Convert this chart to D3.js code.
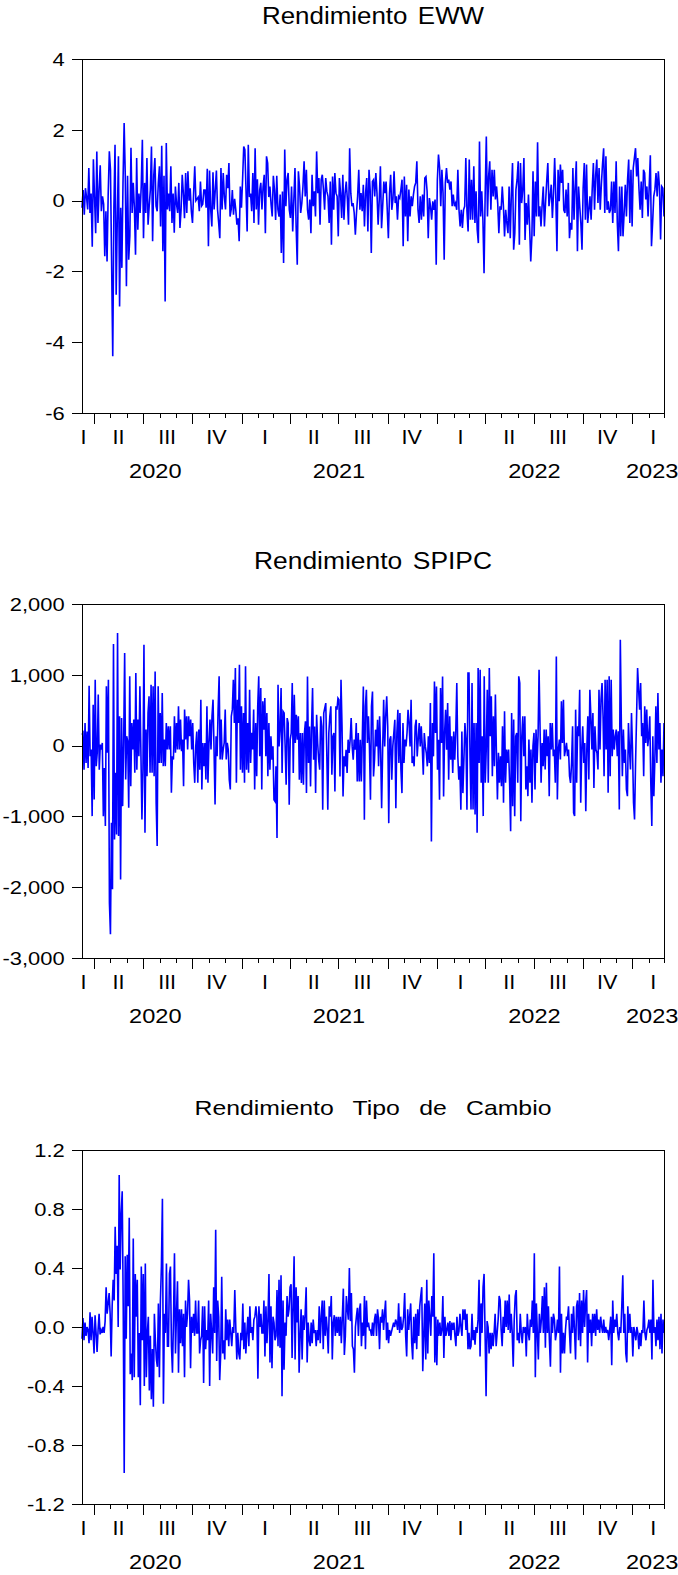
<!DOCTYPE html>
<html>
<head>
<meta charset="utf-8">
<script src="https://cdn.jsdelivr.net/npm/d3@7"></script>
<style>
  body { margin: 0; background: #fff; }
  svg { display: block; }
  text { font-family: "Liberation Sans", Arial, sans-serif; fill: #000; }
</style>
</head>
<body>
<svg id="chart" width="678" height="1575"></svg>
<script>
// ---------------- DATA ----------------
const startDate = "2020-03-09";
const endDate = "2023-03-01";

const titles = ["Rendimiento EWW", "Rendimiento SPIPC", "Rendimiento Tipo de Cambio"];

const ewwTicks = [-6, -4, -2, 0, 2, 4];
const spipcTicks = [-3000, -2000, -1000, 0, 1000, 2000];
const fxTicks = [-1.2, -0.8, -0.4, 0, 0.4, 0.8, 1.2];

const quarterLabels = [
  {date: "2020-03-12", label: "I"}, {date: "2020-05-16", label: "II"}, {date: "2020-08-15", label: "III"}, {date: "2020-11-15", label: "IV"},
  {date: "2021-02-14", label: "I"}, {date: "2021-05-16", label: "II"}, {date: "2021-08-15", label: "III"}, {date: "2021-11-15", label: "IV"},
  {date: "2022-02-14", label: "I"}, {date: "2022-05-16", label: "II"}, {date: "2022-08-15", label: "III"}, {date: "2022-11-15", label: "IV"},
  {date: "2023-02-09", label: "I"}
];
const yearLabels = [
  {date: "2020-07-24", label: "2020"}, {date: "2021-07-02", label: "2021"},
  {date: "2022-07-02", label: "2022"}, {date: "2023-02-07", label: "2023"}
];

const ewwReturns = [
-0.2,0.3,-0.4,0.35,0.1,-0.25,0.92,-0.35,0.2,-1.3,
1.17,0.1,-0.92,1.39,-0.63,0.3,1.0,-0.3,0.12,-0.1,
-1.57,-0.3,-1.72,0.2,1.39,0.87,-1.76,-4.4,-0.2,1.58,
-2.66,-0.5,1.25,-2.99,-0.2,-1.9,0.5,2.19,0.7,-2.42,
0.7,-1.67,-1.0,1.49,-0.35,0.5,-0.2,-1.53,1.2,-0.82,
0.2,-0.35,0.4,1.72,-1.06,0.5,-0.35,1.2,-0.68,-0.15,0.3,
1.53,-1.15,0.7,1.2,-0.15,-0.3,0.5,0.97,-0.73,1.55,
-1.43,0.7,-2.85,1.63,-0.25,0.2,-0.3,0.97,-0.63,0.2,
-0.91,0.4,-0.1,-0.35,0.5,-0.77,-0.25,0.73,0.2,-0.5,0.78,
-0.35,0.83,0,0.35,-0.3,-0.63,0.2,0.97,0,0.05,0.1,-0.3,
0.54,-0.15,-0.1,0.3,0.3,-0.2,0.9,-1.29,0.85,-0.25,
-0.73,0.8,-0.25,0.3,0.85,-0.25,-0.63,-1.06,0.92,-0.25,0.78,0.1,
-0.25,0.73,0.35,1.06,-0.45,-0.25,0.3,-0.4,0.05,-0.25,
-0.68,-0.5,-1.15,0.4,-0.2,0.6,1.53,1.44,0.3,-0.87,
1.58,0.1,0.2,-0.3,0.78,-0.63,1.48,-0.25,0.6,-0.68,
0.3,0.5,-0.25,0.4,0.73,-0.92,1.25,1.06,0.1,0.4,-0.1,
-0.45,0.7,0.3,-0.55,0.7,-0.25,
-0.45,0.17,-1.48,0.26,-1.76,1.44,-0.16,0.59,0.78,-0.26,
-0.49,0.40,-0.87,0.03,0.92,-0.73,-1.81,0.83,0.40,-0.35,
-0.07,0.40,1.11,0.12,0.87,-0.26,-0.54,0.03,-0.92,0.73,
-0.16,0.26,-0.45,1.39,0.21,0.64,-0.68,0.59,0.73,0.31,
-0.26,0.64,0.26,0.12,-0.63,0.54,-1.25,0.68,-0.26,0.78,
0.21,0.12,-1.01,0.64,0.21,-0.49,0.73,-0.54,0.21,0.54,
0.03,-0.68,1.48,0.21,-0.16,-0.07,-0.35,-0.96,-0.35,0.12,
0.87,-0.26,0.21,-0.30,0.45,-0.73,0.21,0.64,-0.87,0.87,
0.31,-1.48,0.54,0.59,0.12,0.78,0.21,-0.68,0.03,0.97,
-0.78,-0.16,0.54,0.21,0.54,-0.26,-1.06,0.21,0.73,-0.26,
0.03,0.83,-0.07,0.12,-0.54,0.12,0.07,0.31,0.59,-1.29,
0.68,-0.45,0.45,-1.15,0.31,-0.45,0.12,-0.16,0.17,0.40,
0.50,1.11,-0.26,-0.63,0.12,-0.54,0.17,-0.45,0.64,0.68,
0.26,-1.06,0.07,-0.16,-0.54,-0.02,-0.26,0.03,-1.81,0.59,
1.30,0.92,-0.16,0.87,0.21,-1.67,0.50,0.92,0.50,0.59,
0.31,0.54,-0.16,0.17,-0.16,-0.07,-0.26,0.87,-0.26,-0.73,
-0.26,-0.77,-0.26,-0.16,1.20,-0.30,-0.87,
1.16,-0.54,0.59,-0.54,0.97,-0.63,0.26,-0.82,-1.20,1.67,
-0.45,0.26,-0.54,-2.05,0.21,1.81,-0.45,0.68,1.11,-0.26,
0.87,0.12,0.87,0.03,0.40,-0.07,-0.92,-0.16,-0.26,0.40,
-0.16,-1.01,-0.26,-0.63,-0.92,0.40,-1.06,0.21,1.06,-1.39,
-0.92,0.31,0.59,1.11,-1.25,1.06,-0.07,0.31,1.20,-1.11,
-0.07,-0.68,0.17,-0.73,-1.72,-1.01,0.83,-1.01,0.54,-0.45,
1.65,-0.45,-0.16,-0.73,-0.11,0.40,-0.73,-0.07,0.54,1.06,
-0.16,0.12,0.45,-0.49,0.21,1.20,0.12,-1.43,0.87,-0.02,
1.02,0.5,0.87,-0.26,-0.35,0.31,-0.45,0.50,-1.06,-0.63,
-0.82,0.92,-0.54,0.40,1.11,-1.43,0.40,-0.16,-0.63,-1.39,
0.35,1.06,-0.54,1.02,-0.63,-0.26,0.12,-0.54,0.35,1.06,
-0.26,0.73,1.16,-0.07,0.92,-0.26,0.45,1.02,1.48,-0.35,
1.25,-0.26,-0.02,-0.35,-0.26,0.54,-0.63,0.54,-0.35,1.11,
-0.63,-1.43,0.40,-1.01,0.40,-1.01,-0.35,0.45,-0.45,0.59,
1.16,-0.63,0.87,-0.73,0.92,1.20,1.48,0.68,1.20,0.35,
-0.26,0.54,-0.49,0.87,0.78,0.03,0.40,-0.45,0.40,1.28,
-1.29,-0.63,0.12,0.31,0.78,0.12,0.83,0.40,-1.10,0.40,
0.35,-0.45
];

const spipcReturns = [
154,180,-340,320,-245,200,-315,846,-150,-56,
-996,578,-761,930,-290,-100,720,-340,14,-56,
38,-996,-315,-1137,837,-100,930,-2218,-2665,-1090,
-2030,1434,-1325,-385,-1255,1590,-1278,414,-1890,390,
-855,38,1307,-480,132,61,-879,978,-573,320,
-56,367,-385,1025,-340,367,-150,837,-100,-1043,
-340,1424,-1231,226,-432,461,696,-385,860,-385,
837,-432,1048,-808,-1419,837,-245,461,-245,743,
-290,85,-290,320,-56,273,-56,273,-667,-150,
-197,414,-100,320,-56,555,-56,367,-80,85,
-573,508,85,414,-56,414,132,367,-56,320,
-245,-526,-9,200,-526,226,-340,649,-620,38,
-290,38,-480,555,-526,38,367,-56,414,649,
-56,-832,132,-150,508,978,-197,367,-197,-56,
38,508,-197,38,-56,-480,-620,414,508,930,
320,1095,-526,649,320,1142,-340,555,-385,461,
-526,1119,-340,320,-385,790,-245,180,-56,508,
-620,320,-432,555,978,-150,813,-620,625,226,
672,-150,461,-432,320,-340,132,
-199,-11,-765,-788,-293,-1306,859,-11,225,812,
-388,483,460,-11,-553,389,319,-835,84,178,
883,-388,718,36,436,84,413,-482,178,-529,
178,-553,178,342,-671,977,-246,271,-576,271,
812,-199,271,-671,436,36,-199,-340,413,271,
-906,460,530,600,-105,-906,178,413,554,-411,
131,178,-647,554,507,671,648,-435,930,271,
-718,-152,-293,-58,-388,84,-105,84,389,-11,
-199,84,-58,319,-506,178,-506,84,-506,131,
836,-1048,554,789,36,413,-11,-765,554,765,
-435,-199,225,-11,366,-293,413,-58,-883,-58,
648,-11,413,695,271,-1095,84,131,-482,-11,
178,366,-883,178,507,-246,460,-340,-671,319,
-246,84,-11,178,507,319,-11,648,-246,-152,
-293,271,366,-152,84,319,-11,271,-11,-411,
178,-11,-105,-293,131,-246,600,-1354,319,-152,
906,178,836,-340,84,-765,812,36,977,-718,
178,507,-58,600,-482,413,-199,131,-388,200,
-199,200,883,-152,-482,-293,-906,200,-671,-199,
319,84,-906,1024,
1025,-150,-902,884,-902,320,-973,320,-1231,1095,
-244,1072,-526,132,-996,978,-526,-56,790,-526,
1095,132,696,-432,414,-291,720,-103,-761,-103,
-526,-150,-573,273,-808,484,-526,-56,-244,-56,
-526,-1208,461,-855,367,-996,132,179,-526,978,
884,-1067,132,414,-150,414,-620,-291,-714,85,
-526,-56,-808,-9,179,-620,226,-244,132,1072,
226,-526,38,-291,226,-338,226,-150,132,-714,
320,-56,320,-150,-56,-526,1260,-761,-56,85,
-197,625,38,649,-150,-56,38,-150,-56,-432,
-526,-244,273,-949,-996,508,-526,273,132,790,
-808,-56,273,-244,38,-926,-56,414,-479,790,
414,-56,461,-597,273,-56,-103,-338,790,-56,
649,884,414,-432,931,-56,931,-667,978,-432,
931,-150,226,-56,132,226,-150,202,-902,1495,
320,-432,226,-244,-56,-620,-714,320,-56,-338,
461,-56,-808,-1043,-244,414,1095,790,508,884,
132,320,-432,555,38,508,-9,132,414,-526,
-1137,132,-714,-197,555,-244,743,-56,320,-526,
-56,-432,320
];

const fxReturns = [
-0.08,0.06,-0.09,0.03,-0.06,0.00,-0.02,-0.11,0.10,-0.09,
0.07,-0.04,-0.18,0.08,-0.04,-0.17,-0.02,0.09,-0.05,-0.02,
-0.04,0.00,-0.04,0.04,0.27,0.09,0.16,0.23,0.09,-0.20,
0.14,0.32,0.18,0.68,0.36,0.55,0.00,1.03,0.39,0.77,
0.92,0.14,-0.99,0.48,-0.08,0.49,0.14,0.74,-0.32,-0.18,
-0.36,0.60,-0.34,0.36,0.07,0.32,-0.34,-0.04,-0.53,0.41,
-0.09,0.36,-0.40,0.43,-0.34,-0.04,0.07,-0.43,-0.06,-0.49,
-0.15,-0.54,0.09,-0.09,-0.22,-0.27,0.16,-0.34,0.18,0.41,
0.87,-0.52,0.09,-0.04,0.43,-0.13,-0.13,0.36,0.41,-0.13,
-0.31,0.05,0.50,-0.18,0.09,0.31,-0.31,0.12,-0.11,0.12,
-0.13,0.09,-0.34,0.18,0.00,0.09,0.32,0.18,-0.28,0.07,
-0.04,0.09,-0.06,0.18,-0.04,-0.04,0.18,-0.18,-0.09,-0.06,
0.14,-0.38,0.14,-0.15,-0.02,-0.09,0.18,-0.40,0.09,-0.04,
-0.18,0.27,-0.04,0.66,-0.23,0.18,0.07,-0.36,-0.18,0.34,
-0.18,-0.09,-0.22,0.12,-0.09,0.05,-0.13,0.05,-0.04,-0.13,
0.00,-0.04,0.25,0.00,-0.22,-0.04,-0.18,-0.22,-0.04,-0.09,
0.16,-0.15,0.03,-0.18,-0.04,0.07,-0.13,0.14,-0.04,0.00,
-0.09,0.05,0.07,0.14,0.07,-0.35,0.14,0.00,0.09,-0.04,
-0.04,0.18,-0.20,0.14,-0.11,0.05,0.36,-0.24,0.14,-0.28,
0.07,0.03,-0.09,
-0.06,0.25,-0.13,0.32,-0.14,0.35,-0.47,0.18,-0.29,0.03,
-0.06,0.21,0.07,0.12,0.27,0.29,-0.21,0.14,0.48,-0.22,
0.27,0.03,0.21,-0.31,-0.06,0.12,-0.22,0.08,-0.02,0.09,
0.27,-0.24,0.03,-0.09,-0.13,0.03,-0.11,0.05,-0.04,-0.02,
-0.13,-0.02,-0.09,0.14,-0.11,0.07,0.18,-0.15,0.18,-0.06,
0.07,-0.02,-0.18,0.14,0.07,0.21,-0.22,0.03,0.08,-0.06,
0.07,-0.04,0.07,-0.06,0.07,-0.11,0.07,0.26,-0.19,-0.06,
0.21,0.12,0.05,0.40,0.04,0.23,-0.13,-0.15,-0.31,0.00,
0.07,0.13,-0.06,0.12,0.16,-0.13,0.03,-0.06,0.21,-0.15,
0.18,0.00,0.03,-0.02,-0.02,-0.06,0.03,-0.06,0.05,0.09,
-0.06,0.12,0.05,-0.15,0.07,0.03,0.12,-0.02,0.09,0.18,
-0.09,0.03,-0.11,-0.02,-0.06,-0.03,0.00,0.03,0.00,0.05,
0.03,-0.02,0.16,-0.04,0.07,-0.02,0.00,0.07,0.23,-0.06,
-0.20,0.12,-0.02,0.07,0.16,-0.11,-0.22,0.07,-0.11,0.09,
-0.15,0.12,-0.06,0.14,0.21,0.27,-0.30,-0.06,0.16,-0.22,
0.32,-0.18,0.18,0.07,-0.06,0.21,0.07,0.50,-0.24,0.07,
-0.26,0.05,-0.06,0.03,-0.06,-0.02,0.21,-0.21,0.07,-0.06,
-0.02,0.03,-0.06,0.04,-0.09,0.03,-0.02,0.03,-0.06,-0.13,
0.07,-0.06,-0.03,0.09,0.00,-0.06,0.12,0.05,0.12,-0.02,
0.09,-0.15,-0.04,-0.15,
-0.13,0.09,-0.09,-0.02,-0.12,0.00,-0.04,0.05,0.32,-0.20,
0.16,-0.04,0.27,0.36,-0.04,-0.47,0.04,0.00,-0.18,-0.04,
-0.15,-0.04,-0.13,-0.04,0.09,-0.13,-0.04,0.05,0.21,0.18,
-0.02,-0.13,0.07,-0.04,0.18,0.00,0.18,-0.02,0.22,-0.04,
0.09,-0.04,-0.27,0.05,0.21,0.25,-0.09,-0.04,-0.11,0.09,
-0.04,-0.11,0.00,-0.04,0.00,-0.20,0.09,-0.04,-0.09,0.05,
0.00,0.18,-0.04,0.50,-0.34,0.16,-0.04,-0.22,0.09,-0.04,
0.05,0.21,-0.04,0.27,-0.14,0.30,-0.04,0.14,-0.09,-0.27,
0.07,-0.04,0.09,0.05,-0.09,-0.04,0.05,-0.04,0.41,-0.31,
0.09,-0.18,-0.04,-0.18,-0.02,0.07,0.05,0.14,-0.04,-0.18,
0.09,-0.04,0.14,-0.02,-0.22,0.14,0.18,-0.09,0.23,-0.13,
0.18,-0.04,0.25,0.00,0.16,0.25,-0.24,0.09,-0.04,0.05,
-0.13,0.09,-0.04,0.09,-0.06,0.12,-0.02,0.05,-0.04,0.07,
0.00,-0.04,0.05,-0.04,0.00,-0.04,-0.02,-0.09,-0.02,0.07,
-0.26,0.18,-0.04,0.05,0.00,0.09,-0.04,-0.09,0.00,-0.04,
0.14,0.35,-0.04,0.09,-0.18,-0.24,0.14,-0.04,0.09,-0.04,
0.00,-0.20,0.00,-0.04,-0.09,0.00,-0.04,-0.15,-0.04,-0.13,
-0.02,-0.04,0.18,-0.04,-0.09,-0.02,0.00,0.05,-0.04,0.05,
-0.22,0.32,-0.04,0.00,-0.13,0.05,-0.09,0.07,-0.15,0.09,
-0.18,0.05,-0.04
];

// ---------------- CHART ----------------
const plotLeft = 82, plotRight = 664, plotHeight = 354;
const panelTops = [59, 604, 1150];
const tickFontSize = 17.7, tickStretch = 1.24;
const labelFontSize = 20;

const fixMinus = s => s.replace(/\u2212/g, "-");
const panels = [
  {title: titles[0], values: ewwReturns, domain: [-6, 4], ticks: ewwTicks, fmt: d3.format("d"),
   titleSize: 24, titleStretch: 1.08, titleWordSpacing: 3},
  {title: titles[1], values: spipcReturns, domain: [-3000, 2000], ticks: spipcTicks, fmt: d3.format(","),
   titleSize: 24, titleStretch: 1.1, titleWordSpacing: 3},
  {title: titles[2], values: fxReturns, domain: [-1.2, 1.2], ticks: fxTicks, fmt: d3.format(".1f"),
   titleSize: 20, titleStretch: 1.24, titleWordSpacing: 10}
];

const parse = d3.utcParse("%Y-%m-%d");
const t0 = parse(startDate), t1 = parse(endDate);
const xTime = d3.scaleUtc().domain([t0, t1]).range([plotLeft, plotRight]);
const months = d3.utcMonth.range(d3.utcMonth.ceil(t0), d3.utcDay.offset(t1, 1));

const svg = d3.select("#chart");

function stretchedText(g, x, y, txt, size, sx, anchor) {
  g.append("text")
    .attr("transform", `translate(${x},${y}) scale(${sx},1)`)
    .attr("text-anchor", anchor)
    .attr("font-size", size)
    .text(txt);
}

panels.forEach((p, k) => {
  const top = panelTops[k];
  const bottom = top + plotHeight;
  const g = svg.append("g");

  const y = d3.scaleLinear().domain(p.domain).range([bottom, top]);
  const xi = d3.scaleLinear().domain([0, p.values.length - 1]).range([plotLeft, plotRight]);

  // series line
  g.append("path")
    .datum(p.values)
    .attr("fill", "none")
    .attr("stroke", "#0000ff")
    .attr("stroke-width", 1.6)
    .attr("stroke-linejoin", "miter")
    .attr("d", d3.line().x((d, i) => xi(i)).y(d => y(d)));

  // frame
  g.append("rect")
    .attr("x", plotLeft + 0.5).attr("y", top + 0.5)
    .attr("width", plotRight - plotLeft).attr("height", plotHeight)
    .attr("fill", "none").attr("stroke", "#000").attr("stroke-width", 1)
    .attr("shape-rendering", "crispEdges");

  // y axis
  const ya = g.append("g")
    .attr("transform", `translate(${plotLeft},0)`)
    .call(d3.axisLeft(y).tickValues(p.ticks).tickSize(10).tickFormat(d => fixMinus(p.fmt(d))));
  ya.select(".domain").remove();
  ya.selectAll(".tick line").attr("stroke", "#000").attr("shape-rendering", "crispEdges");
  ya.selectAll(".tick text")
    .attr("font-family", '"Liberation Sans", Arial, sans-serif')
    .attr("font-size", tickFontSize)
    .attr("fill", "#000")
    .attr("x", -17.3 / tickStretch)
    .attr("dy", "0.35em")
    .attr("transform", `scale(${tickStretch},1)`);

  // x axis: monthly ticks, longer at quarter starts
  const xa = g.append("g")
    .attr("transform", `translate(0,${bottom})`)
    .call(d3.axisBottom(xTime).tickValues(months).tickSize(5).tickFormat(""));
  xa.select(".domain").remove();
  xa.selectAll(".tick line")
    .attr("stroke", "#000")
    .attr("shape-rendering", "crispEdges")
    .attr("y2", d => (d.getUTCMonth() % 3 === 0 ? 11 : 5));

  // quarter and year labels
  quarterLabels.forEach(q => stretchedText(g, xTime(parse(q.date)), bottom + 31, q.label, labelFontSize, 1.08, "middle"));
  yearLabels.forEach(q => stretchedText(g, xTime(parse(q.date)), bottom + 64.8, q.label, labelFontSize, 1.18, "middle"));

  // title
  g.append("text")
    .attr("transform", `translate(${(plotLeft + plotRight) / 2},${top - 35}) scale(${p.titleStretch},1)`)
    .attr("text-anchor", "middle")
    .attr("font-size", p.titleSize)
    .attr("word-spacing", p.titleWordSpacing)
    .text(p.title);
});
</script>
</body>
</html>
